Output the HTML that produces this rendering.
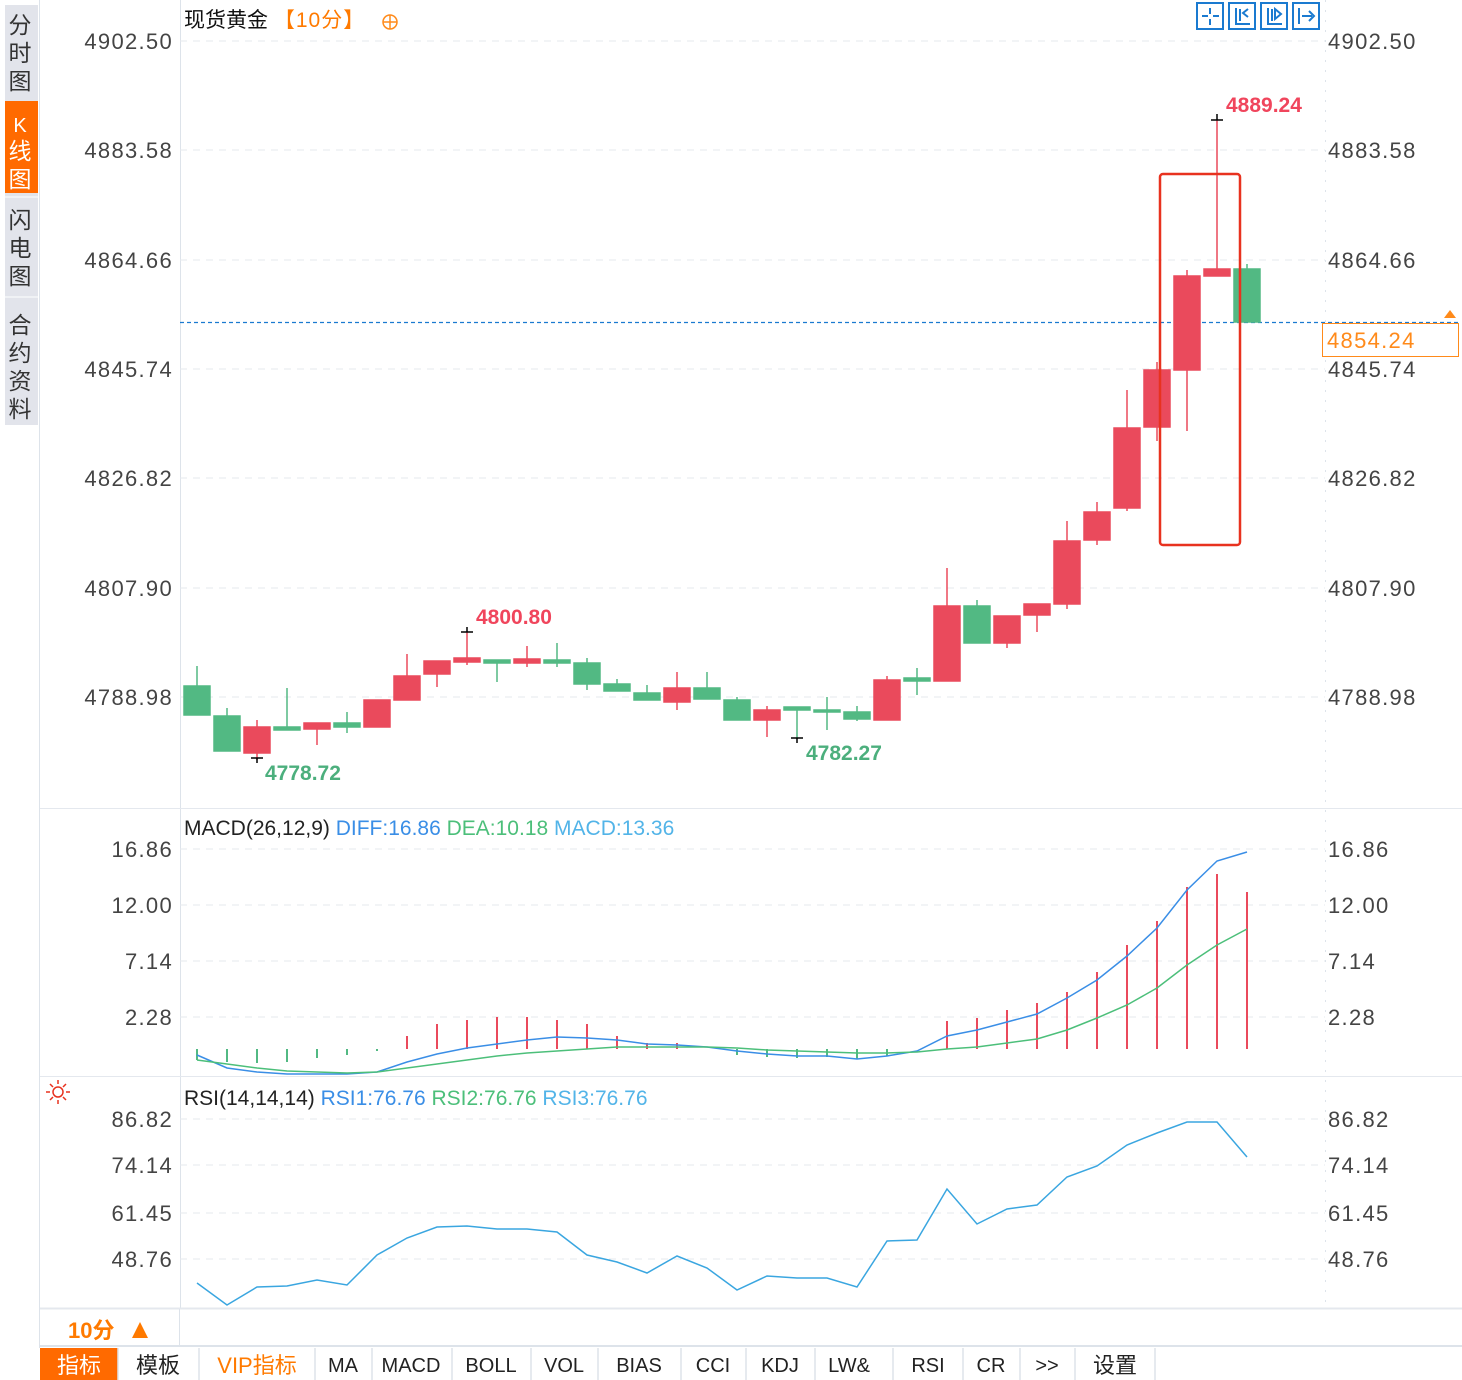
<!DOCTYPE html>
<html><head><meta charset="utf-8"><style>
body{margin:0;background:#fff;width:1462px;height:1380px;overflow:hidden;font-family:"Liberation Sans","Noto Sans CJK SC",sans-serif}
svg{position:absolute;left:0;top:0}
text{font-family:"Liberation Sans","Noto Sans CJK SC",sans-serif}
.ax text{letter-spacing:1.3px}
</style></head><body>
<svg width="1462" height="1380" viewBox="0 0 1462 1380" xmlns="http://www.w3.org/2000/svg">
<rect x="5" y="5" width="33" height="420" fill="#e2e4eb"/>
<rect x="5" y="101" width="33" height="92" fill="#ff6a00"/>
<line x1="5" y1="197" x2="38" y2="197" stroke="#fff"/>
<line x1="5" y1="297" x2="38" y2="297" stroke="#fff"/>
<g font-size="23" fill="#333" text-anchor="middle">
<text x="20" y="33">分</text><text x="20" y="61">时</text><text x="20" y="89">图</text>
<text x="20" y="132" fill="#fff" font-family="Liberation Serif" font-size="20">K</text><text x="20" y="159" fill="#fff">线</text><text x="20" y="187" fill="#fff">图</text>
<text x="20" y="228">闪</text><text x="20" y="256">电</text><text x="20" y="284">图</text>
<text x="20" y="333">合</text><text x="20" y="361">约</text><text x="20" y="389">资</text><text x="20" y="417">料</text>
</g>
<line x1="39.5" y1="0" x2="39.5" y2="1348" stroke="#dde3ea"/>
<line x1="180.5" y1="0" x2="180.5" y2="1308" stroke="#dde3ea"/>
<line x1="1325.5" y1="0" x2="1325.5" y2="1308" stroke="#dde3ea" stroke-dasharray="2 8"/>
<line x1="40" y1="808.5" x2="1462" y2="808.5" stroke="#e4e8ee"/>
<line x1="40" y1="1076.5" x2="1462" y2="1076.5" stroke="#e4e8ee"/>
<line x1="40" y1="1308.5" x2="1462" y2="1308.5" stroke="#e4e8ee" stroke-width="2"/>
<line x1="40" y1="1346" x2="1462" y2="1346" stroke="#dde3ea" stroke-width="2"/>
<g stroke="#e6e9ee" stroke-dasharray="7 6">
<line x1="180" y1="41" x2="1325" y2="41"/><line x1="180" y1="150" x2="1325" y2="150"/><line x1="180" y1="260" x2="1325" y2="260"/><line x1="180" y1="369" x2="1325" y2="369"/><line x1="180" y1="478" x2="1325" y2="478"/><line x1="180" y1="588" x2="1325" y2="588"/><line x1="180" y1="697" x2="1325" y2="697"/>
<line x1="180" y1="849" x2="1325" y2="849"/><line x1="180" y1="905" x2="1325" y2="905"/><line x1="180" y1="961" x2="1325" y2="961"/><line x1="180" y1="1017" x2="1325" y2="1017"/>
<line x1="180" y1="1119" x2="1325" y2="1119"/><line x1="180" y1="1165" x2="1325" y2="1165"/><line x1="180" y1="1213" x2="1325" y2="1213"/><line x1="180" y1="1259" x2="1325" y2="1259"/>
</g>
<g font-size="22" fill="#444" class="ax">
<g text-anchor="end">
<text x="173" y="49">4902.50</text><text x="173" y="158">4883.58</text><text x="173" y="268">4864.66</text><text x="173" y="377">4845.74</text><text x="173" y="486">4826.82</text><text x="173" y="596">4807.90</text><text x="173" y="705">4788.98</text>
<text x="173" y="857">16.86</text><text x="173" y="913">12.00</text><text x="173" y="969">7.14</text><text x="173" y="1025">2.28</text>
<text x="173" y="1127">86.82</text><text x="173" y="1173">74.14</text><text x="173" y="1221">61.45</text><text x="173" y="1267">48.76</text>
</g>
<text x="1328" y="49">4902.50</text><text x="1328" y="158">4883.58</text><text x="1328" y="268">4864.66</text><text x="1328" y="377">4845.74</text><text x="1328" y="486">4826.82</text><text x="1328" y="596">4807.90</text><text x="1328" y="705">4788.98</text>
<text x="1328" y="857">16.86</text><text x="1328" y="913">12.00</text><text x="1328" y="969">7.14</text><text x="1328" y="1025">2.28</text>
<text x="1328" y="1127">86.82</text><text x="1328" y="1173">74.14</text><text x="1328" y="1221">61.45</text><text x="1328" y="1267">48.76</text>
</g>
<text x="184" y="27" font-size="21" fill="#111">现货黄金 <tspan fill="#ff7a00" letter-spacing="1">【10分】</tspan></text>
<circle cx="390" cy="22" r="7" fill="none" stroke="#ff8a1a" stroke-width="1.5"/><line x1="383" y1="22" x2="397" y2="22" stroke="#ff8a1a" stroke-width="1.5"/><line x1="390" y1="15" x2="390" y2="29" stroke="#ff8a1a" stroke-width="1.5"/>
<g fill="none" stroke="#1a7ad0" stroke-width="2">
<rect x="1197" y="3" width="26" height="26"/><rect x="1229" y="3" width="26" height="26"/><rect x="1261" y="3" width="26" height="26"/><rect x="1293" y="3" width="26" height="26"/>
<path d="M1210 8v6M1210 19v6M1202 16h6M1213 16h6"/>
<path d="M1236 8v16h14M1240 9v12M1248 9l-5 4l5 4"/>
<path d="M1268 8v16h14M1272 9v12M1275 9l6 5l-6 5z"/>
<path d="M1299 8v16M1302 16h10M1309 11l5 5l-5 5"/>
</g>
<line x1="180" y1="322.5" x2="1460" y2="322.5" stroke="#1a7ad0" stroke-dasharray="4 3" stroke-width="1.3"/>
<rect x="1322.5" y="323.5" width="136" height="33" fill="#fff" stroke="#ff8a1a"/>
<text x="1327" y="348" font-size="22" fill="#ff8a1a" letter-spacing="1.3">4854.24</text>
<path d="M1444 318l6-8l6 8z" fill="#ff8a1a"/>
<g stroke-width="1.5">
<g fill="#52b983" stroke="#52b983">
<line x1="197" y1="666" x2="197" y2="715"/><rect x="184" y="686" width="26" height="29"/>
<line x1="227" y1="708" x2="227" y2="751"/><rect x="214" y="716" width="26" height="35"/>
<line x1="287" y1="688" x2="287" y2="730"/><rect x="274" y="727" width="26" height="3"/>
<line x1="347" y1="712" x2="347" y2="733"/><rect x="334" y="723" width="26" height="4"/>
<line x1="497" y1="660" x2="497" y2="682"/><rect x="484" y="660" width="26" height="3"/>
<line x1="557" y1="643" x2="557" y2="667"/><rect x="544" y="660" width="26" height="3"/>
<line x1="587" y1="658" x2="587" y2="690"/><rect x="574" y="663" width="26" height="21"/>
<line x1="617" y1="679" x2="617" y2="691"/><rect x="604" y="684" width="26" height="7"/>
<line x1="647" y1="685" x2="647" y2="700"/><rect x="634" y="693" width="26" height="7"/>
<line x1="707" y1="672" x2="707" y2="699"/><rect x="694" y="688" width="26" height="11"/>
<line x1="737" y1="697" x2="737" y2="720"/><rect x="724" y="700" width="26" height="20"/>
<line x1="797" y1="707" x2="797" y2="739"/><rect x="784" y="707" width="26" height="3"/>
<line x1="827" y1="697" x2="827" y2="730"/><rect x="814" y="710" width="26" height="2"/>
<line x1="857" y1="706" x2="857" y2="721"/><rect x="844" y="712" width="26" height="7"/>
<line x1="917" y1="668" x2="917" y2="695"/><rect x="904" y="678" width="26" height="3"/>
<line x1="977" y1="600" x2="977" y2="643"/><rect x="964" y="606" width="26" height="37"/>
<line x1="1247" y1="264" x2="1247" y2="322"/><rect x="1234" y="269" width="26" height="53"/>
</g>
<g fill="#ea4a5c" stroke="#ea4a5c">
<line x1="257" y1="720" x2="257" y2="760"/><rect x="244" y="727" width="26" height="26"/>
<line x1="317" y1="723" x2="317" y2="745"/><rect x="304" y="723" width="26" height="6"/>
<line x1="377" y1="700" x2="377" y2="727"/><rect x="364" y="700" width="26" height="27"/>
<line x1="407" y1="654" x2="407" y2="700"/><rect x="394" y="676" width="26" height="24"/>
<line x1="437" y1="661" x2="437" y2="687"/><rect x="424" y="661" width="26" height="13"/>
<line x1="467" y1="632" x2="467" y2="665"/><rect x="454" y="658" width="26" height="4"/>
<line x1="527" y1="646" x2="527" y2="667"/><rect x="514" y="659" width="26" height="4"/>
<line x1="677" y1="672" x2="677" y2="710"/><rect x="664" y="688" width="26" height="14"/>
<line x1="767" y1="706" x2="767" y2="737"/><rect x="754" y="710" width="26" height="10"/>
<line x1="887" y1="676" x2="887" y2="720"/><rect x="874" y="680" width="26" height="40"/>
<line x1="947" y1="568" x2="947" y2="681"/><rect x="934" y="606" width="26" height="75"/>
<line x1="1007" y1="616" x2="1007" y2="648"/><rect x="994" y="616" width="26" height="27"/>
<line x1="1037" y1="604" x2="1037" y2="632"/><rect x="1024" y="604" width="26" height="11"/>
<line x1="1067" y1="521" x2="1067" y2="609"/><rect x="1054" y="541" width="26" height="63"/>
<line x1="1097" y1="502" x2="1097" y2="545"/><rect x="1084" y="512" width="26" height="28"/>
<line x1="1127" y1="390" x2="1127" y2="511"/><rect x="1114" y="428" width="26" height="80"/>
<line x1="1157" y1="362" x2="1157" y2="441"/><rect x="1144" y="370" width="26" height="57"/>
<line x1="1187" y1="270" x2="1187" y2="431"/><rect x="1174" y="276" width="26" height="94"/>
<line x1="1217" y1="120" x2="1217" y2="276"/><rect x="1204" y="269" width="26" height="7"/>
</g>
</g>
<g stroke="#000" stroke-width="1.5">
<path d="M1211 120h12M1217 114v6"/><path d="M461 632h12M467 627v5"/><path d="M251 758h12M257 758v5"/><path d="M791 738h12M797 738v5"/>
</g>
<g font-size="21" font-weight="bold">
<text x="1226" y="112" fill="#f0455c">4889.24</text>
<text x="476" y="624" fill="#f0455c">4800.80</text>
<text x="265" y="780" fill="#4caf7d">4778.72</text>
<text x="806" y="760" fill="#4caf7d">4782.27</text>
</g>
<rect x="1160" y="174" width="80" height="371" rx="3" fill="none" stroke="#e8321f" stroke-width="2.5"/>
<text x="184" y="835" font-size="21" fill="#222">MACD(26,12,9) <tspan fill="#3a8ee6">DIFF:16.86</tspan>  <tspan fill="#4cbf7a">DEA:10.18</tspan>  <tspan fill="#52b4e8">MACD:13.36</tspan></text>
<g stroke="#ea4a5c" stroke-width="2">
<path d="M407 1049V1036M437 1049V1024M467 1049V1020M497 1049V1017M527 1049V1017M557 1049V1020M587 1049V1024M617 1049V1036M647 1049V1043M677 1049V1043M947 1049V1021M977 1049V1018M1007 1049V1010M1037 1049V1003M1067 1049V992M1097 1049V972M1127 1049V945M1157 1049V921M1187 1049V887M1217 1049V874M1247 1049V892"/>
</g>
<g stroke="#52b983" stroke-width="2">
<path d="M197 1049V1060M227 1049V1062M257 1049V1063M287 1049V1062M317 1049V1058M347 1049V1055M377 1049V1051M737 1049V1055M767 1049V1057M797 1049V1058M827 1049V1057M857 1049V1059M887 1049V1056"/>
</g>
<polyline fill="none" stroke="#3a8ee6" stroke-width="1.5" points="197,1055 227,1068 257,1072 287,1074 317,1074 347,1074 377,1072 407,1062 437,1054 467,1048 497,1044 527,1040 557,1037 587,1038 617,1040 647,1044 677,1045 707,1047 737,1051 767,1054 797,1056 827,1056 857,1059 887,1056 917,1051 947,1036 977,1030 1007,1022 1037,1014 1067,998 1097,980 1127,956 1157,928 1187,890 1217,861 1247,852"/>
<polyline fill="none" stroke="#4cbf7a" stroke-width="1.5" points="197,1060 227,1064 257,1068 287,1071 317,1072 347,1073 377,1072 407,1068 437,1064 467,1060 497,1056 527,1053 557,1051 587,1049 617,1047 647,1047 677,1047 707,1047 737,1048 767,1050 797,1051 827,1052 857,1053 887,1053 917,1052 947,1049 977,1047 1007,1043 1037,1039 1067,1030 1097,1018 1127,1005 1157,988 1187,965 1217,945 1247,929"/>
<g stroke="#e8321f" stroke-width="1.5" fill="none"><circle cx="58" cy="1092" r="5"/><path d="M46 1092h4M66 1092h4M58 1080v4M58 1100v4M50 1084l3 3M63 1097l3 3M66 1084l-3 3M50 1100l3-3"/></g>
<text x="184" y="1105" font-size="21" fill="#222">RSI(14,14,14) <tspan fill="#3a8ee6">RSI1:76.76</tspan>  <tspan fill="#4cbf7a">RSI2:76.76</tspan>  <tspan fill="#52b4e8">RSI3:76.76</tspan></text>
<polyline fill="none" stroke="#3aa6e0" stroke-width="1.5" points="197,1283 227,1305 257,1287 287,1286 317,1280 347,1285 377,1255 407,1238 437,1227 467,1226 497,1229 527,1229 557,1232 587,1255 617,1262 647,1273 677,1256 707,1268 737,1290 767,1276 797,1278 827,1278 857,1287 887,1241 917,1240 947,1189 977,1224 1007,1209 1037,1205 1067,1177 1097,1166 1127,1145 1157,1133 1187,1122 1217,1122 1247,1157"/>
<line x1="179.5" y1="1309" x2="179.5" y2="1346" stroke="#dde3ea"/>
<text x="68" y="1338" font-size="22" font-weight="bold" fill="#ff7a00">10分</text><path d="M132 1338l8-16l8 16z" fill="#ff7a00"/>
<rect x="40" y="1348" width="78" height="32" fill="#ff6a00"/>
<g stroke="#dde3ea" stroke-width="1.5">
<path d="M118 1348v32M199 1348v32M315 1348v32M372 1348v32M452 1348v32M531 1348v32M598 1348v32M681 1348v32M746 1348v32M815 1348v32M893 1348v32M963 1348v32M1020 1348v32M1075 1348v32M1155 1348v32"/>
</g>
<g font-size="22" fill="#222" text-anchor="middle">
<text x="79" y="1373" fill="#fff">指标</text><text x="158" y="1373">模板</text><text x="257" y="1373" fill="#ff7a00">VIP指标</text>
<g font-family="Liberation Mono" font-size="20"><text x="343" y="1372">MA</text><text x="411" y="1372">MACD</text><text x="491" y="1372">BOLL</text><text x="564" y="1372">VOL</text><text x="639" y="1372">BIAS</text><text x="713" y="1372">CCI</text><text x="780" y="1372">KDJ</text><text x="849" y="1372">LW&amp;</text><text x="928" y="1372">RSI</text><text x="991" y="1372">CR</text><text x="1047" y="1372">&gt;&gt;</text></g>
<text x="1115" y="1373">设置</text>
</g>
</svg>
</body></html>
